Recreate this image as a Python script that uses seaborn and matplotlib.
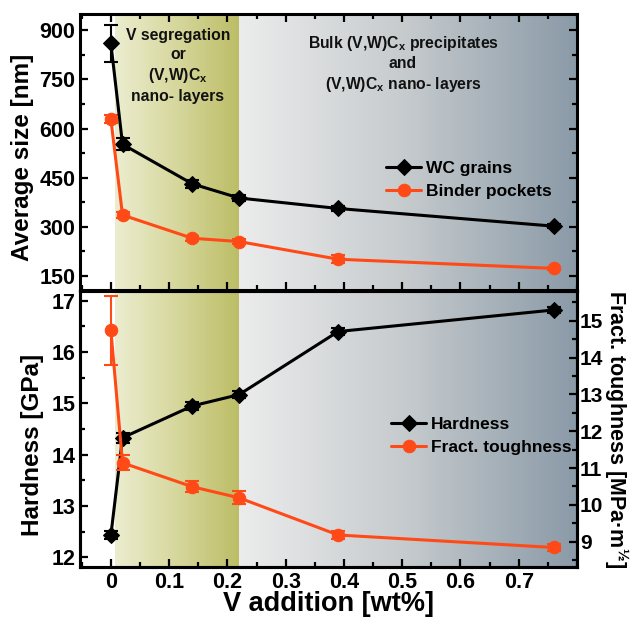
import numpy as np
import pandas as pd
import matplotlib
matplotlib.use("Agg")
import matplotlib.pyplot as plt
from matplotlib.ticker import MultipleLocator
from matplotlib.colors import LinearSegmentedColormap
import seaborn as sns

# ---------------- data ----------------
v_add = [0.0, 0.02, 0.14, 0.22, 0.39, 0.76]
wc_grains = [860, 552, 431, 388, 356, 302]
wc_err = [56, 18, 12, 10, 8, 6]
binder = [628, 336, 265, 255, 201, 173]
binder_err = [12, 10, 8, 8, 12, 5]
hardness = [12.43, 14.33, 14.95, 15.17, 16.40, 16.82]
hardness_err = [0.08, 0.10, 0.08, 0.07, 0.07, 0.06]
toughness = [14.74, 11.14, 10.49, 10.19, 9.18, 8.84]
toughness_err = [0.93, 0.20, 0.15, 0.18, 0.10, 0.10]

xticks = [0, 0.1, 0.2, 0.3, 0.4, 0.5, 0.6, 0.7]
xticklabels = ["0", "0.1", "0.2", "0.3", "0.4", "0.5", "0.6", "0.7"]
top_yticks = [150, 300, 450, 600, 750, 900]
hard_yticks = [12, 13, 14, 15, 16, 17]
tough_yticks = [9, 10, 11, 12, 13, 14, 15]

region1 = (0.007, 0.22)
region2 = (0.22, 0.80)

text1 = "V segregation\nor\n(V,W)C$_\\mathregular{x}$\nnano- layers"
text2 = "Bulk (V,W)C$_\\mathregular{x}$ precipitates\nand\n(V,W)C$_\\mathregular{x}$ nano- layers"

# ---------------- style ----------------
sns.set_theme(style="ticks")
plt.rcParams["font.family"] = ["Liberation Sans", "DejaVu Sans"]
plt.rcParams["font.weight"] = "bold"
plt.rcParams["axes.labelweight"] = "bold"
plt.rcParams["mathtext.default"] = "regular"
plt.rcParams["axes.linewidth"] = 2.2
for k in ("text.color", "axes.labelcolor", "xtick.color", "ytick.color", "axes.edgecolor"):
    plt.rcParams[k] = "black"

BLACK = "#000000"
ORANGE = "#ff4a17"
XLIM = (-0.053, 0.80)
TICKFS = 15.5

fig = plt.figure(figsize=(6.32, 6.17), dpi=100)
L, W = 80 / 632, 497 / 632
ax_top = fig.add_axes([L, 1 - 290 / 617, W, 276 / 617])
ax_bot = fig.add_axes([L, 1 - 567 / 617, W, 276 / 617])
ax_tgh = ax_bot.twinx()

green = LinearSegmentedColormap.from_list("g", ["#ecedcf", "#d6d79c", "#bcbd65"])
gray = LinearSegmentedColormap.from_list("s", ["#ececec", "#c5cacd", "#8a9aa7"])


def add_background(ax, ylim):
    grad = np.linspace(0, 1, 256)[None, :]
    grad = np.repeat(grad, 4, axis=0)
    ax.imshow(grad, cmap=green, aspect="auto", zorder=0, interpolation="bicubic",
              extent=[region1[0], region1[1], ylim[0], ylim[1]])
    ax.imshow(grad, cmap=gray, aspect="auto", zorder=0, interpolation="bicubic",
              extent=[region2[0], region2[1], ylim[0], ylim[1]])
    ax.set_xlim(*XLIM)
    ax.set_ylim(*ylim)


def style_ticks(ax, left=True, right=True, top=True, bottom=True):
    ax.tick_params(which="both", direction="in", width=1.6, colors="black",
                   left=left, right=right, top=top, bottom=bottom)
    ax.tick_params(which="major", length=5.5)
    ax.tick_params(which="minor", length=3.5)


# ---------------- top panel ----------------
df_top = pd.DataFrame({"x": v_add, "wc": wc_grains, "binder": binder})
top_ylim = (107, 950)
add_background(ax_top, top_ylim)
ax_top.errorbar(v_add, wc_grains, yerr=wc_err, fmt="none", ecolor=BLACK,
                elinewidth=1.5, capsize=5, capthick=1.5, zorder=3)
ax_top.errorbar(v_add, binder, yerr=binder_err, fmt="none", ecolor=ORANGE,
                elinewidth=1.5, capsize=5, capthick=1.5, zorder=3)
sns.lineplot(data=df_top, x="x", y="wc", ax=ax_top, color=BLACK, marker="D",
             markersize=8, markeredgecolor=BLACK, linewidth=2.2, label="WC grains", zorder=4)
sns.lineplot(data=df_top, x="x", y="binder", ax=ax_top, color=ORANGE, marker="o",
             markersize=9, markeredgecolor=ORANGE, linewidth=2.2, label="Binder pockets", zorder=4)
ax_top.set_xlim(*XLIM)
ax_top.set_ylim(*top_ylim)
ax_top.set_xticks(xticks)
ax_top.xaxis.set_minor_locator(MultipleLocator(0.05))
ax_top.set_yticks(top_yticks)
ax_top.yaxis.set_minor_locator(MultipleLocator(75))
ax_top.tick_params(labelbottom=False)
style_ticks(ax_top)
ax_top.set_xlabel("")
ax_top.set_ylabel("Average size [nm]", fontsize=17.5, fontweight="bold")
ax_top.yaxis.set_label_coords(-0.092, 0.482)
for t in ax_top.get_yticklabels():
    t.set_fontsize(TICKFS)
    t.set_fontweight("bold")
ax_top.legend(loc="center left", bbox_to_anchor=(0.585, 0.40), frameon=False,
              handlelength=2.0, handletextpad=0.3, labelspacing=0.45,
              prop={"weight": "bold", "size": 12.5})
ax_top.text(0.197, 0.812, text1, transform=ax_top.transAxes, ha="center", va="center",
            fontsize=11.3, fontweight="bold", linespacing=1.3, color="#111111")
ax_top.text(0.65, 0.819, text2, transform=ax_top.transAxes, ha="center", va="center",
            fontsize=11.3, fontweight="bold", linespacing=1.3, color="#111111")

# ---------------- bottom panel ----------------
df_bot = pd.DataFrame({"x": v_add, "h": hardness, "k": toughness})
hard_ylim = (11.81, 17.19)
tough_ylim = (8.31, 15.81)
add_background(ax_bot, hard_ylim)
ax_bot.errorbar(v_add, hardness, yerr=hardness_err, fmt="none", ecolor=BLACK,
                elinewidth=1.5, capsize=5, capthick=1.5, zorder=3)
sns.lineplot(data=df_bot, x="x", y="h", ax=ax_bot, color=BLACK, marker="D",
             markersize=8, markeredgecolor=BLACK, linewidth=2.2, label="Hardness", zorder=4)
ax_tgh.errorbar(v_add, toughness, yerr=toughness_err, fmt="none", ecolor=ORANGE,
                elinewidth=1.5, capsize=5, capthick=1.5, zorder=3)
sns.lineplot(data=df_bot, x="x", y="k", ax=ax_tgh, color=ORANGE, marker="o",
             markersize=9, markeredgecolor=ORANGE, linewidth=2.2, label="Fract. toughness", zorder=4)

ax_bot.set_xlim(*XLIM)
ax_bot.set_ylim(*hard_ylim)
ax_bot.set_xticks(xticks)
ax_bot.set_xticklabels(xticklabels)
ax_bot.xaxis.set_minor_locator(MultipleLocator(0.05))
ax_bot.set_yticks(hard_yticks)
ax_bot.yaxis.set_minor_locator(MultipleLocator(0.5))
style_ticks(ax_bot, right=False, top=False)
ax_bot.set_xlabel("V addition [wt%]", fontsize=19.5, fontweight="bold", labelpad=-1)
ax_bot.set_ylabel("Hardness [GPa]", fontsize=17.5, fontweight="bold")
ax_bot.yaxis.set_label_coords(-0.072, 0.442)
for t in ax_bot.get_yticklabels() + ax_bot.get_xticklabels():
    t.set_fontsize(TICKFS)
    t.set_fontweight("bold")

ax_tgh.set_ylim(*tough_ylim)
ax_tgh.set_yticks(tough_yticks)
ax_tgh.yaxis.set_minor_locator(MultipleLocator(0.5))
ax_tgh.tick_params(which="both", direction="in", width=1.6, right=True, left=False,
                   top=False, bottom=False, pad=2, colors="black")
ax_tgh.tick_params(which="major", length=5.5)
ax_tgh.tick_params(which="minor", length=3.5)
ax_tgh.set_ylabel("Fract. toughness [MPa·m$^{½}$]", fontsize=15.5, fontweight="bold",
                  rotation=270, labelpad=20)
for t in ax_tgh.get_yticklabels():
    t.set_fontsize(15)
    t.set_fontweight("bold")

h1, l1 = ax_bot.get_legend_handles_labels()
h2, l2 = ax_tgh.get_legend_handles_labels()
if ax_bot.get_legend() is not None:
    ax_bot.get_legend().remove()
if ax_tgh.get_legend() is not None:
    ax_tgh.get_legend().remove()
ax_tgh.legend(h1 + h2, l1 + l2, loc="center left", bbox_to_anchor=(0.595, 0.475),
              frameon=False, handlelength=2.0, handletextpad=0.3, labelspacing=0.45,
              prop={"weight": "bold", "size": 12.5})

for ax in (ax_top, ax_bot, ax_tgh):
    for s in ax.spines.values():
        s.set_linewidth(2.2)
        s.set_color("black")

fig.savefig("out.png", dpi=100)
